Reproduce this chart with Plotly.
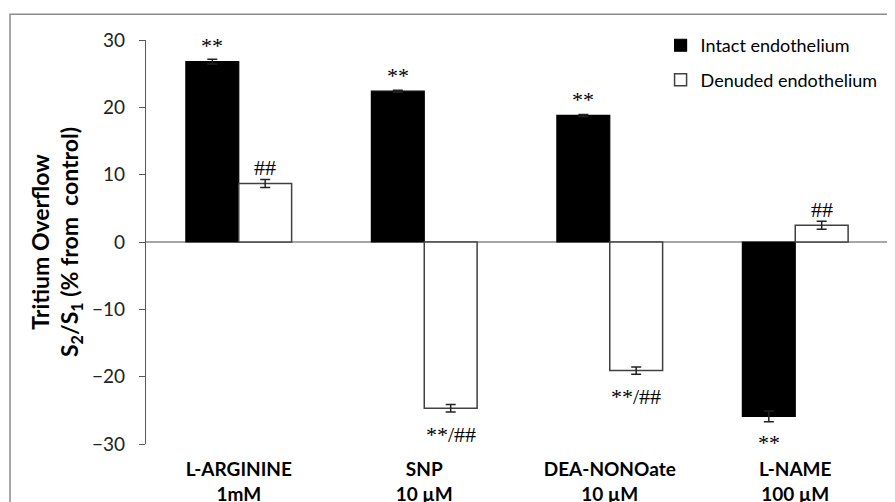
import plotly.graph_objects as go

# ---- data ----
drugs = ["L-ARGININE", "SNP", "DEA-NONOate", "L-NAME"]
doses = ["1mM", "10 µM", "10 µM", "100 µM"]
intact = [26.8, 22.4, 18.8, -25.9]
intact_err = [0.35, 0.15, 0.15, 0.8]
denuded = [8.7, -24.7, -19.1, 2.5]
denuded_err = [0.6, 0.55, 0.55, 0.6]
intact_sig = ["**", "**", "**", "**"]
denuded_sig = ["##", "**/##", "**/##", "##"]
y_ticks = [-30, -20, -10, 0, 10, 20, 30]

ticktext = [f"{d}<br>{s}" for d, s in zip(drugs, doses)]

fig = go.Figure()
fig.add_trace(go.Bar(
    name="Intact endothelium", x=drugs, y=intact, legendgroup="a",
    marker=dict(color="black", line=dict(color="black", width=1.2)),
    error_y=dict(type="data", array=intact_err, color="#222", thickness=1.5, width=5),
))
fig.add_trace(go.Bar(
    name="Denuded endothelium", x=drugs, y=denuded, legendgroup="b",
    marker=dict(color="white", line=dict(color="#404040", width=1.5)),
    error_y=dict(type="data", array=denuded_err, color="#222", thickness=1.5, width=5),
))

half_bar = 26.5
ann = []
for i, d in enumerate(drugs):
    for val, err, txt, sh in [(intact[i], intact_err[i], intact_sig[i], -half_bar),
                              (denuded[i], denuded_err[i], denuded_sig[i], half_bar)]:
        pos = val >= 0
        ann.append(dict(
            x=d, y=val, xref="x", yref="y", text=txt, showarrow=False,
            xshift=sh, yshift=(16 if pos else -26), yanchor="middle",
            font=dict(family="Liberation Serif", size=22, color="black"),
        ))

# page body has an 8px margin, so the figure is sized/offset to compensate
fig.update_layout(
    width=887, height=494,
    margin=dict(l=138, r=7, t=32, b=58, autoexpand=False),
    paper_bgcolor="white", plot_bgcolor="white",
    barmode="group", bargap=0.43, bargroupgap=0,
    font=dict(family="Lato", color="black"),
    showlegend=True,
    legend=dict(
        x=0.6935, y=1.032, xanchor="left", yanchor="top",
        font=dict(family="Lato", size=18, color="black"),
        traceorder="grouped", tracegroupgap=8,
        bgcolor="rgba(0,0,0,0)",
    ),
    annotations=ann,
    shapes=[dict(type="rect", xref="paper", yref="paper",
                 x0=-0.1833, x1=1.05, y0=-0.3, y1=1.064,
                 line=dict(color="#8c8c8c", width=1.5), layer="below")],
)
fig.update_xaxes(
    tickmode="array", tickvals=drugs, ticktext=ticktext,
    ticks="", showline=False, showgrid=False, automargin=False,
    tickfont=dict(family="Lato", size=19, color="black", weight="bold"),
    ticklabelstandoff=12,
)
fig.update_yaxes(
    range=[-30, 30], tickvals=y_ticks, automargin=False,
    showgrid=False, showline=True, linecolor="#595959", linewidth=1.2,
    ticks="outside", ticklen=6, tickcolor="#595959", tickwidth=1.2,
    tickfont=dict(family="Lato", size=19, color="#222"),
    ticklabelstandoff=10,
    zeroline=True, zerolinecolor="#a6a6a6", zerolinewidth=1.5,
    title=dict(text="Tritium Overflow<br>S<sub>2</sub>/S<sub>1</sub> (% from  control)",
               font=dict(family="Lato", size=23, color="black", weight="bold"),
               standoff=6),
)

fig.write_html("out.html")
